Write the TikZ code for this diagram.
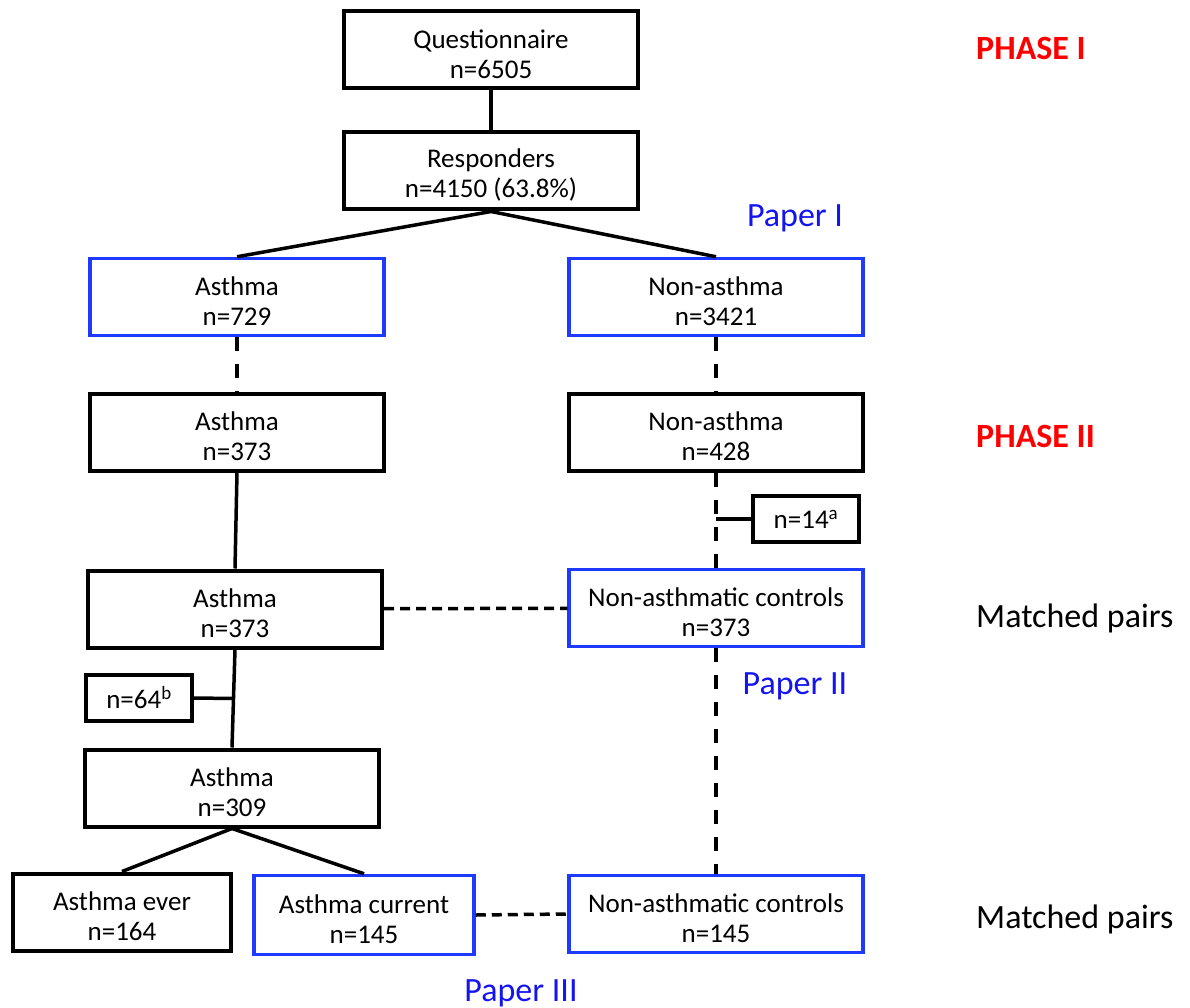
\documentclass[tikz,border=0pt]{standalone}
\usepackage{fontspec}
\setmainfont{Carlito}
\usetikzlibrary{calc}
\definecolor{boxblue}{RGB}{31,58,255}
\definecolor{paperblue}{RGB}{20,20,240}
\definecolor{phasered}{RGB}{255,0,0}
\newcommand{\topgap}{\rule{0pt}{27pt}}

\begin{document}
\begin{tikzpicture}[x=1pt, y=-1pt,
    box/.style={draw, line width=4pt, minimum width=294pt, minimum height=77pt, inner sep=0pt, align=center, font=\fontsize{27}{30}\selectfont},
    bluebox/.style={box, draw=boxblue, line width=3.5pt},
    smallbox/.style={box, minimum width=106pt, minimum height=46pt},
    conn/.style={line width=3.5pt},
    dashv/.style={line width=3.5pt, dash pattern=on 14pt off 13pt},
    dashh/.style={line width=3.5pt, dash pattern=on 10pt off 6pt},
    phase/.style={anchor=base west, inner sep=0pt, text=phasered, font=\fontsize{34}{36}\selectfont\bfseries},
    paper/.style={anchor=base, inner sep=0pt, text=paperblue, font=\fontsize{34}{36}\selectfont},
    side/.style={anchor=base west, inner sep=0pt, font=\fontsize{34}{36}\selectfont}]

    \useasboundingbox (0,0) rectangle (1190,1008);

    % phase I
    \node[box] (q) at (491,50) {\topgap Questionnaire\\n=6505};
    \node[box] (resp) at (491,171) {\topgap Responders\\n=4150 (63.8\%)};
    \node[bluebox] (a1) at (237,297) {\topgap Asthma\\n=729};
    \node[bluebox] (na1) at (716,297) {\topgap Non-asthma\\n=3421};

    % phase II
    \node[box] (a2) at (237,432) {\topgap Asthma\\n=373};
    \node[box] (na2) at (716,432) {\topgap Non-asthma\\n=428};
    \node[smallbox] (n14) at (806,519) {n=14\textsuperscript{a}};
    \node[box] (a3) at (235,609) {\topgap Asthma\\n=373};
    \node[bluebox] (nac1) at (716,608) {\topgap Non-asthmatic controls\\n=373};
    \node[smallbox] (n64) at (139,698) {n=64\textsuperscript{b}};
    \node[box] (a4) at (232,788) {\topgap Asthma\\n=309};
    \node[box, minimum width=218pt] (ever) at (122,912) {\topgap Asthma ever\\n=164};
    \node[bluebox, minimum width=220pt, minimum height=79pt] (curr) at (364,915) {\topgap Asthma current\\n=145};
    \node[bluebox] (nac2) at (716,914) {\topgap Non-asthmatic controls\\n=145};

    % labels
    \node[phase] (ph1) at (976,60) {PHASE I};
    \node[phase] (ph2) at (976,447) {PHASE II};
    \node[side] (mp1) at (976,627) {Matched pairs};
    \node[side] (mp2) at (976,928) {Matched pairs};
    \node[paper] (p1) at (795,227) {Paper I};
    \node[paper] (p2) at (795,694) {Paper II};
    \node[paper] (p3) at (521,1001) {Paper III};

    % connectors
    \draw[conn] (q) -- (resp);
    \draw[conn] (resp.south) -- (a1.north);
    \draw[conn] (resp.south) -- (na1.north);
    \draw[dashv] (a1) -- (a2);
    \draw[dashv] (na1) -- (na2);
    \draw[conn] (a2.south) -- (a3.north);
    \draw[dashv] (na2) -- (nac1);
    \draw[conn] (n14.west) -- (n14.west -| na2.south);
    \draw[dashh] (a3) -- (nac1);
    \draw[conn] (a3.south) -- (a4.north);
    \draw[conn] (n64.east) -- ($(a3.south)!0.5!(a4.north)$ |- n64.east);
    \draw[dashv] (nac1) -- (nac2);
    \draw[conn] (a4.south) -- (ever.north);
    \draw[conn] (a4.south) -- (curr.north);
    \draw[dashh] (curr.east) -- (nac2.west);

\end{tikzpicture}
\end{document}
